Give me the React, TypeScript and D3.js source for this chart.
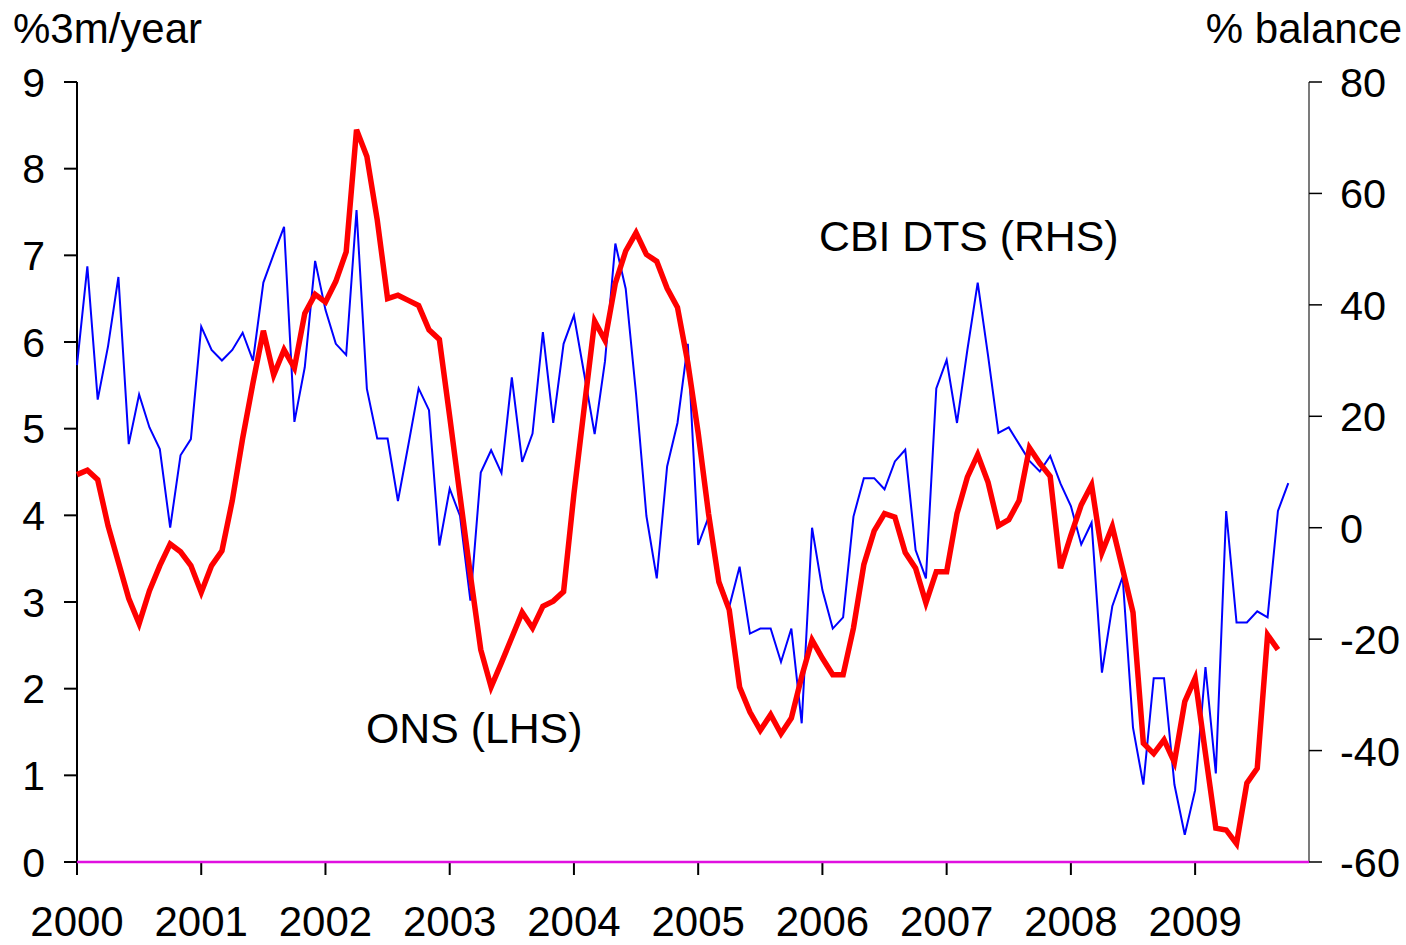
import React from "react";
import * as d3 from "d3";

// Monthly observations, Jan 2000 onwards
const onsValues: number[] = [
  4.47, 4.52, 4.41, 3.88, 3.46, 3.04, 2.75, 3.13, 3.42, 3.67, 3.58, 3.42,
  3.11, 3.42, 3.59, 4.17, 4.89, 5.53, 6.13, 5.62, 5.91, 5.70, 6.33, 6.55,
  6.46, 6.70, 7.04, 8.45, 8.14, 7.41, 6.50, 6.54, 6.48, 6.42, 6.14, 6.03,
  5.14, 4.22, 3.31, 2.45, 2.02, 2.30, 2.59, 2.88, 2.70, 2.95, 3.01, 3.12,
  4.25, 5.25, 6.24, 6.02, 6.68, 7.05, 7.26, 7.01, 6.93, 6.62, 6.40, 5.76,
  4.95, 4.02, 3.23, 2.91, 2.02, 1.73, 1.52, 1.70, 1.48, 1.66, 2.14, 2.56,
  2.35, 2.16, 2.16, 2.70, 3.43, 3.82, 4.02, 3.98, 3.57, 3.39, 2.99, 3.35,
  3.35, 4.02, 4.44, 4.70, 4.38, 3.88, 3.95, 4.17, 4.78, 4.60, 4.45, 3.39,
  3.77, 4.12, 4.35, 3.57, 3.87, 3.38, 2.88, 1.37, 1.25, 1.41, 1.15, 1.85,
  2.12, 1.25, 0.39, 0.37, 0.21, 0.91, 1.08, 2.62, 2.45,
];

const cbiValues: number[] = [
  29.2, 46.9, 23.0, 32.6, 45.0, 15.0, 23.9, 18.0, 14.1, 0.0, 13.0, 15.9,
  36.1, 31.9, 30.0, 31.9, 35.0, 30.0, 44.0, 49.1, 54.0, 19.0, 28.8, 47.9,
  39.1, 33.0, 31.0, 57.0, 24.9, 16.0, 16.0, 4.8, 14.8, 25.0, 21.1, -3.2,
  7.0, 2.1, -13.1, 9.9, 13.9, 9.8, 27.0, 11.8, 16.9, 35.1, 18.8, 33.0,
  38.1, 27.5, 16.8, 29.9, 51.0, 42.9, 24.0, 2.1, -9.1, 11.0, 18.8, 33.0,
  -3.1, 1.9, -9.1, -14.2, -7.0, -19.0, -18.1, -18.1, -24.1, -18.1, -35.1, 0.0,
  -11.2, -18.1, -16.1, 2.0, 8.9, 8.9, 6.9, 11.9, 14.0, -4.0, -9.1, 25.0,
  30.1, 18.8, 31.9, 44.0, 30.9, 17.0, 18.0, 15.0, 12.0, 10.1, 12.9, 7.9,
  3.9, -3.0, 0.9, -26.0, -14.1, -8.8, -35.9, -46.1, -27.0, -27.0, -46.1, -55.1,
  -47.1, -25.0, -44.1, 3.0, -17.0, -17.0, -15.0, -16.1, 3.0, 8.0,
];

const yearLabels: string[] = ["2000", "2001", "2002", "2003", "2004", "2005", "2006", "2007", "2008", "2009"];
const leftTicks: number[] = [0, 1, 2, 3, 4, 5, 6, 7, 8, 9];
const rightTicks: number[] = [-60, -40, -20, 0, 20, 40, 60, 80];

const W = 1406;
const H = 945;
const FONT = "Arial, 'Liberation Sans', Helvetica, sans-serif";

export default function App() {
  const x = d3.scaleLinear().domain([0, 119]).range([77, 1309]);
  const yL = d3.scaleLinear().domain([0, 9]).range([862, 82]);
  const yR = d3.scaleLinear().domain([-60, 80]).range([862, 82]);

  const onsLine = d3
    .line<number>()
    .x((_, i) => x(i))
    .y((d) => yL(d));
  const cbiLine = d3
    .line<number>()
    .x((_, i) => x(i))
    .y((d) => yR(d));

  const [x0, x1] = x.range();
  const [yBottom, yTop] = yL.range();

  return (
    <div style={{ position: "absolute", left: 0, top: 0, width: W, height: H, background: "#fff" }}>
      <svg width={W} height={H} style={{ display: "block" }} fontFamily={FONT}>
        <rect width={W} height={H} fill="#fff" />

        {/* left axis */}
        <line x1={x0} x2={x0} y1={yTop} y2={yBottom + 13} stroke="#000" strokeWidth={2} />
        {leftTicks.map((t) => (
          <g key={"l" + t}>
            <line x1={x0 - 13} x2={x0} y1={yL(t)} y2={yL(t)} stroke="#000" strokeWidth={2} />
            <text x={45} y={yL(t)} dy="0.36em" textAnchor="end" fontSize={41} fill="#000">
              {t}
            </text>
          </g>
        ))}

        {/* right axis */}
        <line x1={x1} x2={x1} y1={yTop} y2={yBottom} stroke="#222" strokeWidth={1.2} />
        {rightTicks.map((t) => (
          <g key={"r" + t}>
            <line x1={x1} x2={x1 + 13} y1={yR(t)} y2={yR(t)} stroke="#000" strokeWidth={1.5} />
            <text x={1340} y={yR(t)} dy="0.36em" textAnchor="start" fontSize={41.5} fill="#000">
              {t}
            </text>
          </g>
        ))}

        {/* x axis ticks and year labels */}
        {yearLabels.map((lab, k) => (
          <g key={lab}>
            <line x1={x(k * 12)} x2={x(k * 12)} y1={yBottom} y2={yBottom + 13} stroke="#000" strokeWidth={2} />
            <text x={x(k * 12)} y={936} textAnchor="middle" fontSize={42} fill="#000">
              {lab}
            </text>
          </g>
        ))}

        {/* zero line */}
        <line x1={x0} x2={x1} y1={yBottom} y2={yBottom} stroke="#e010e0" strokeWidth={2.5} />

        {/* series */}
        <path d={cbiLine(cbiValues) || ""} fill="none" stroke="#0000ff" strokeWidth={2} strokeLinejoin="miter" />
        <path d={onsLine(onsValues) || ""} fill="none" stroke="#ff0000" strokeWidth={5.5} strokeLinejoin="miter" />

        {/* axis titles */}
        <text x={13} y={43} fontSize={42} fill="#000">%3m/year</text>
        <text x={1402} y={43} fontSize={42} textAnchor="end" fill="#000">% balance</text>

        {/* annotations */}
        <text x={819} y={251} fontSize={42.8} fill="#000">CBI DTS (RHS)</text>
        <text x={366} y={743} fontSize={42.8} fill="#000">ONS (LHS)</text>
      </svg>
    </div>
  );
}
